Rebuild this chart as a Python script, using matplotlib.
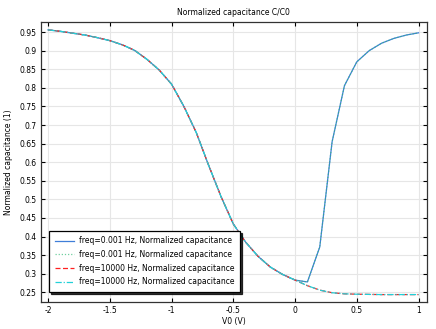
import numpy as np
import matplotlib
matplotlib.use('Agg')
from matplotlib import pyplot as plt

# bias sweep, V
v0 = np.round(np.arange(-2.0, 1.0001, 0.1), 2)

# shared depletion part (-2 .. 0 V)
c_common = [0.956, 0.952, 0.947, 0.942, 0.935, 0.927, 0.916, 0.901, 0.877,
            0.848, 0.810, 0.750, 0.680, 0.592, 0.508, 0.434, 0.385, 0.347,
            0.318, 0.298, 0.283]
# low frequency: inversion layer follows the signal
c_low_tail = [0.278, 0.372, 0.655, 0.806, 0.870, 0.900, 0.920, 0.933, 0.942, 0.948]
# high frequency: stays at the minimum
c_high_tail = [0.268, 0.256, 0.249, 0.246, 0.245, 0.2445, 0.244, 0.244, 0.244, 0.244]

c_low = c_common + c_low_tail
c_high = c_common + c_high_tail

labels = ['freq=0.001 Hz, Normalized capacitance',
          'freq=0.001 Hz, Normalized capacitance',
          'freq=10000 Hz, Normalized capacitance',
          'freq=10000 Hz, Normalized capacitance']

fs = 5.5
fig = plt.figure(figsize=(4.36, 3.29), dpi=100)
ax = fig.add_axes([0.094, 0.082, 0.885, 0.851])

ax.plot(v0, c_low, color='#3f7ed8', lw=0.9, ls='-', label=labels[0])
ax.plot(v0, c_low, color='#33bb77', lw=0.9, ls=(0, (1, 1.5)), alpha=0.7, label=labels[1])
ax.plot(v0, c_high, color='#ff2020', lw=0.9, ls=(0, (4, 2)), label=labels[2])
ax.plot(v0, c_high, color='#22d0d8', lw=0.9, ls=(0, (5, 1.5, 1, 1.5)), label=labels[3])

ax.set_xlim(-2.057, 1.067)
ax.set_ylim(0.224, 0.977)
ax.set_xticks(np.arange(-2, 1.01, 0.5))
ax.set_xticklabels(['-2', '-1.5', '-1', '-0.5', '0', '0.5', '1'])
yt = np.arange(0.25, 0.951, 0.05)
ax.set_yticks(yt)
ax.set_yticklabels(['%g' % round(t, 2) for t in yt])
ax.tick_params(direction='in', top=True, right=True, labelsize=fs,
               length=3, width=0.8, pad=3)
ax.grid(True, color='#e6e6e6', lw=0.8)
ax.set_axisbelow(True)
for s in ax.spines.values():
    s.set_color('#333333')
    s.set_linewidth(0.9)

ax.set_title('Normalized capacitance C/C0', fontsize=fs, pad=5)
ax.set_xlabel('V0 (V)', fontsize=fs, labelpad=1)
ax.set_ylabel('Normalized capacitance (1)', fontsize=fs, labelpad=5)

leg = ax.legend(loc='lower left', bbox_to_anchor=(0.021, 0.036), fontsize=fs,
                frameon=True, fancybox=False, borderaxespad=0,
                shadow={'ox': 1.5, 'oy': -1.5, 'color': 'black', 'alpha': 0.8},
                framealpha=1, edgecolor='black', handlelength=2.5,
                labelspacing=0.6, borderpad=0.75, handletextpad=0.65)
leg.get_frame().set_linewidth(0.9)

plt.savefig('out.png', dpi=100)
